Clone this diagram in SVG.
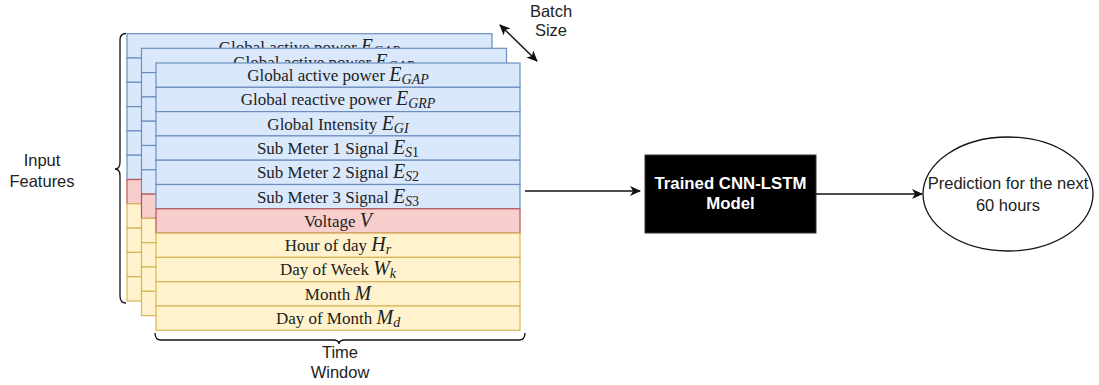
<svg xmlns="http://www.w3.org/2000/svg" width="1099" height="385" viewBox="0 0 1099 385">
  <style>
    .blue { fill: #dae8fc; stroke: #6c8ebf; stroke-width: 1.2; }
    .red { fill: #f8cecc; stroke: #b85450; stroke-width: 1.2; }
    .yellow { fill: #fff2cc; stroke: #d6b656; stroke-width: 1.2; }
    .row { font-family: "Liberation Serif", "Times New Roman", serif; font-size: 17px; fill: #222; text-anchor: middle; }
    .m { font-style: italic; font-size: 20px; }
    .s { font-style: italic; font-size: 14px; }
    .d { font-size: 14px; }
    .sans { font-family: "Liberation Sans", Arial, sans-serif; font-size: 16.5px; fill: #222; text-anchor: middle; }
    .bold { font-family: "Liberation Sans", Arial, sans-serif; font-size: 16.8px; font-weight: bold; fill: #fff; text-anchor: middle; }
    .line { fill: none; stroke: #111; stroke-width: 1.5; }
    .brace { fill: none; stroke: #111; stroke-width: 1.3; }
  </style>
  <defs>
    <marker id="arrow" markerWidth="12" markerHeight="10" refX="10" refY="5" orient="auto" markerUnits="userSpaceOnUse">
      <path d="M0,0 L11,5 L0,10 L3,5 Z" fill="#111"/>
    </marker>
    <marker id="arrowStart" markerWidth="12" markerHeight="10" refX="1" refY="5" orient="auto" markerUnits="userSpaceOnUse">
      <path d="M11,0 L0,5 L11,10 L8,5 Z" fill="#111"/>
    </marker>
  </defs>

  <!-- back sample of the batch -->
  <g id="stack-back">
    <rect class="blue" x="127" y="33.7" width="365" height="24.3"/>
    <rect class="blue" x="127" y="58" width="365" height="24.3"/>
    <rect class="blue" x="127" y="82.3" width="365" height="24.3"/>
    <rect class="blue" x="127" y="106.6" width="365" height="24.3"/>
    <rect class="blue" x="127" y="130.9" width="365" height="24.3"/>
    <rect class="blue" x="127" y="155.2" width="365" height="24.3"/>
    <rect class="red" x="127" y="179.5" width="365" height="24.3"/>
    <rect class="yellow" x="127" y="203.8" width="365" height="24.3"/>
    <rect class="yellow" x="127" y="228.1" width="365" height="24.3"/>
    <rect class="yellow" x="127" y="252.4" width="365" height="24.3"/>
    <rect class="yellow" x="127" y="276.7" width="365" height="24.3"/>
    <text class="row" x="309.5" y="53">Global active power <tspan class="m">E</tspan><tspan class="s" dy="3">GAP</tspan></text>
  </g>

  <!-- middle sample of the batch -->
  <g id="stack-middle">
    <rect class="blue" x="141.5" y="48.3" width="365" height="24.3"/>
    <rect class="blue" x="141.5" y="72.6" width="365" height="24.3"/>
    <rect class="blue" x="141.5" y="96.9" width="365" height="24.3"/>
    <rect class="blue" x="141.5" y="121.2" width="365" height="24.3"/>
    <rect class="blue" x="141.5" y="145.5" width="365" height="24.3"/>
    <rect class="blue" x="141.5" y="169.8" width="365" height="24.3"/>
    <rect class="red" x="141.5" y="194.1" width="365" height="24.3"/>
    <rect class="yellow" x="141.5" y="218.4" width="365" height="24.3"/>
    <rect class="yellow" x="141.5" y="242.7" width="365" height="24.3"/>
    <rect class="yellow" x="141.5" y="267" width="365" height="24.3"/>
    <rect class="yellow" x="141.5" y="291.3" width="365" height="24.3"/>
    <text class="row" x="324" y="67.5">Global active power <tspan class="m">E</tspan><tspan class="s" dy="3">GAP</tspan></text>
  </g>

  <!-- front sample: one row per input feature -->
  <g id="stack-front">
    <rect class="blue" x="156" y="63" width="364" height="24.3"/>
    <rect class="blue" x="156" y="87.3" width="364" height="24.3"/>
    <rect class="blue" x="156" y="111.6" width="364" height="24.3"/>
    <rect class="blue" x="156" y="135.9" width="364" height="24.3"/>
    <rect class="blue" x="156" y="160.2" width="364" height="24.3"/>
    <rect class="blue" x="156" y="184.5" width="364" height="24.3"/>
    <rect class="red" x="156" y="208.8" width="364" height="24.3"/>
    <rect class="yellow" x="156" y="233.1" width="364" height="24.3"/>
    <rect class="yellow" x="156" y="257.4" width="364" height="24.3"/>
    <rect class="yellow" x="156" y="281.7" width="364" height="24.3"/>
    <rect class="yellow" x="156" y="306" width="364" height="24.3"/>
    <text class="row" x="338" y="81">Global active power <tspan class="m">E</tspan><tspan class="s" dy="3">GAP</tspan></text>
    <text class="row" x="338" y="105.3">Global reactive power <tspan class="m">E</tspan><tspan class="s" dy="3">GRP</tspan></text>
    <text class="row" x="338" y="129.6">Global Intensity <tspan class="m">E</tspan><tspan class="s" dy="3">GI</tspan></text>
    <text class="row" x="338" y="153.9">Sub Meter 1 Signal <tspan class="m">E</tspan><tspan class="s" dy="3">S</tspan><tspan class="d">1</tspan></text>
    <text class="row" x="338" y="178.2">Sub Meter 2 Signal <tspan class="m">E</tspan><tspan class="s" dy="3">S</tspan><tspan class="d">2</tspan></text>
    <text class="row" x="338" y="202.5">Sub Meter 3 Signal <tspan class="m">E</tspan><tspan class="s" dy="3">S</tspan><tspan class="d">3</tspan></text>
    <text class="row" x="338" y="226.8">Voltage  <tspan class="m">V</tspan></text>
    <text class="row" x="338" y="251.1">Hour of day  <tspan class="m">H</tspan><tspan class="s" dy="3">r</tspan></text>
    <text class="row" x="338" y="275.4">Day of Week <tspan class="m">W</tspan><tspan class="s" dy="3">k</tspan></text>
    <text class="row" x="338" y="299.7">Month <tspan class="m">M</tspan></text>
    <text class="row" x="338" y="324">Day of Month <tspan class="m">M</tspan><tspan class="s" dy="3">d</tspan></text>
  </g>

  <!-- braces and their captions -->
  <g id="input-features">
    <path class="brace" d="M126,33.5 Q120,33.5 120,40 L120,162 Q120,169 115,169 Q120,169 120,176 L120,296 Q120,303 126,303"/>
    <text class="sans" x="42" y="166">Input</text>
    <text class="sans" x="42" y="187">Features</text>
  </g>

  <g id="time-window">
    <path class="brace" d="M155,333 Q155,340 161,340 L333,340 Q339,340 339,344 Q339,340 345,340 L519,340 Q525,340 525,333"/>
    <text class="sans" x="340" y="358">Time</text>
    <text class="sans" x="340" y="378">Window</text>
  </g>

  <g id="batch-size">
    <text class="sans" x="551" y="17">Batch</text>
    <text class="sans" x="551" y="36">Size</text>
  </g>

  <!-- model and prediction -->
  <g id="model">
    <rect x="645" y="155" width="171" height="78" fill="#000" stroke="#333" stroke-width="1"/>
    <text class="bold" x="730.5" y="189">Trained CNN-LSTM</text>
    <text class="bold" x="730.5" y="209">Model</text>
  </g>

  <g id="prediction">
    <ellipse cx="1008" cy="194" rx="85" ry="57" fill="#fff" stroke="#111" stroke-width="1.3"/>
    <text class="sans" x="1008" y="189">Prediction for the next</text>
    <text class="sans" x="1008" y="211">60 hours</text>
  </g>

  <!-- connectors -->
  <g id="connectors">
    <line class="line" x1="500" y1="25" x2="537" y2="61" marker-start="url(#arrowStart)" marker-end="url(#arrow)"/>
    <line class="line" x1="525" y1="191" x2="640" y2="191" marker-end="url(#arrow)"/>
    <line class="line" x1="816" y1="194" x2="922" y2="194" marker-end="url(#arrow)"/>
  </g>
</svg>
